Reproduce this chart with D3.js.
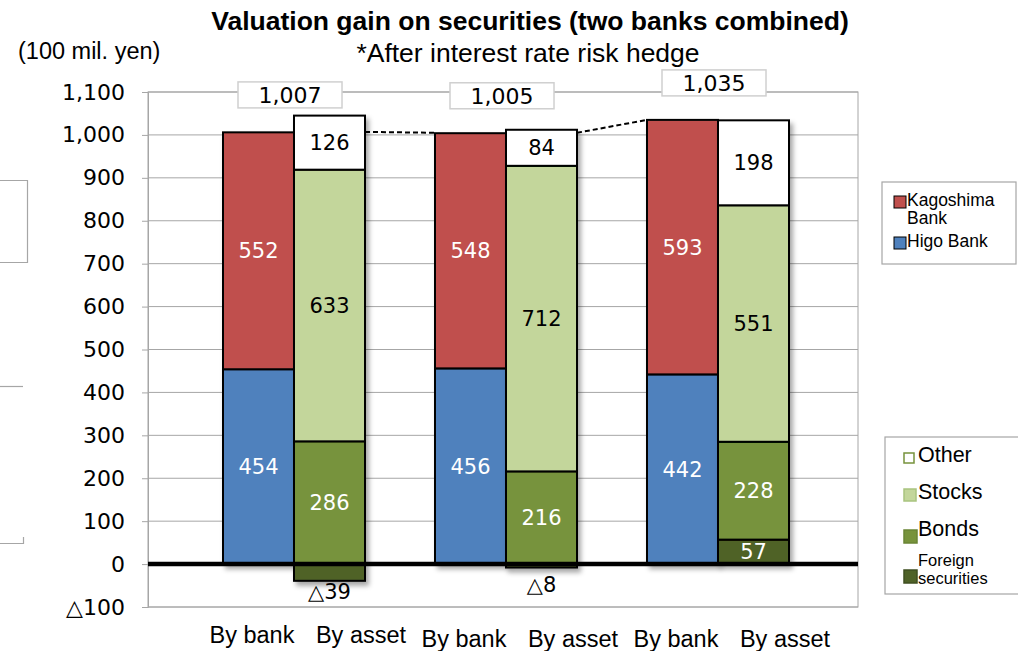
<!DOCTYPE html>
<html>
<head>
<meta charset="utf-8">
<script src="https://cdn.jsdelivr.net/npm/d3@7"></script>
<style>
  html, body { margin: 0; padding: 0; background: #fff; }
  svg { display: block; }
</style>
</head>
<body>
<svg id="chart" width="1018" height="651"></svg>
<script>
// ---- data (100 mil. yen) ----
const groups = ['A', 'B', 'C'];
const barTypes = ['By bank', 'By asset'];
const higo = [454, 456, 442];
const kagoshima = [552, 548, 593];
const foreign = [-39, -8, 57];
const bonds = [286, 216, 228];
const stocks = [633, 712, 551];
const other = [126, 84, 198];
const totals = [1007, 1005, 1035];
const yTickValues = [-100, 0, 100, 200, 300, 400, 500, 600, 700, 800, 900, 1000, 1100];

const colors = {
  kagoshima: '#C0504D',
  higo: '#4F81BD',
  other: '#FFFFFF',
  stocks: '#C3D69B',
  bonds: '#77933C',
  foreign: '#4F6228'
};

const numFont = 'Verdana, "DejaVu Sans", sans-serif';
const textFont = 'Arial, "Liberation Sans", sans-serif';

const svg = d3.select('#chart');
const defs = svg.append('defs');
const shadow = defs.append('filter').attr('id', 'shadow')
  .attr('x', '-20%').attr('y', '-20%').attr('width', '150%').attr('height', '150%');
shadow.append('feDropShadow')
  .attr('dx', 3).attr('dy', 4).attr('stdDeviation', 2.5)
  .attr('flood-color', '#000').attr('flood-opacity', 0.35);

const plot = { left: 148, right: 858, top: 92, bottom: 607 };

const y = d3.scaleLinear().domain([-100, 1100]).range([plot.bottom, plot.top]);
const x0 = d3.scaleBand().domain(groups).range([188, 824]).padding(0);
const x1 = d3.scaleBand().domain(barTypes).range([35, 177]).padding(0);

const fmt = d3.format(',');
const tickFmt = v => v < 0 ? '\u25B3' + fmt(-v) : fmt(v);

// ---- grid ----
svg.append('g')
  .selectAll('line')
  .data(yTickValues)
  .join('line')
  .attr('x1', plot.left).attr('x2', plot.right)
  .attr('y1', d => y(d)).attr('y2', d => y(d))
  .attr('stroke', '#A6A6A6').attr('stroke-width', 1);

// plot frame
svg.append('rect')
  .attr('x', plot.left).attr('y', plot.top)
  .attr('width', plot.right - plot.left).attr('height', plot.bottom - plot.top)
  .attr('fill', 'none').attr('stroke', '#A6A6A6').attr('stroke-width', 1);

// ---- y axis ----
const yAxis = d3.axisLeft(y).tickValues(yTickValues).tickFormat(tickFmt).tickSizeOuter(0).tickSize(6).tickPadding(17);
const yg = svg.append('g').attr('transform', `translate(${plot.left},0)`).call(yAxis);
yg.select('.domain').attr('stroke', '#A6A6A6');
yg.selectAll('.tick line').attr('stroke', '#A6A6A6');
yg.selectAll('.tick text')
  .attr('font-family', numFont)
  .attr('font-size', 22)
  .attr('fill', '#000');

// ---- stacks ----
function stackSegments(items) {
  let pos = 0, neg = 0;
  return items.map(it => {
    let y0, y1;
    if (it.value >= 0) { y0 = pos; y1 = pos + it.value; pos = y1; }
    else { y0 = neg + it.value; y1 = neg; neg = y0; }
    return Object.assign({}, it, { y0, y1 });
  });
}

const bars = [];
groups.forEach((g, i) => {
  bars.push({
    group: g, type: 'By bank',
    segs: stackSegments([
      { key: 'higo', value: higo[i], textColor: '#fff' },
      { key: 'kagoshima', value: kagoshima[i], textColor: '#fff' }
    ])
  });
  bars.push({
    group: g, type: 'By asset',
    segs: stackSegments([
      { key: 'foreign', value: foreign[i], textColor: '#fff' },
      { key: 'bonds', value: bonds[i], textColor: '#fff' },
      { key: 'stocks', value: stocks[i], textColor: '#000' },
      { key: 'other', value: other[i], textColor: '#000' }
    ])
  });
});

const barG = svg.append('g')
  .selectAll('g.bar')
  .data(bars)
  .join('g')
  .attr('class', 'bar')
  .attr('transform', d => `translate(${x0(d.group) + x1(d.type)},0)`);

barG.append('g').attr('filter', 'url(#shadow)')
  .selectAll('rect')
  .data(d => d.segs)
  .join('rect')
  .attr('x', 0)
  .attr('width', x1.bandwidth())
  .attr('y', s => y(s.y1))
  .attr('height', s => y(s.y0) - y(s.y1))
  .attr('fill', s => colors[s.key])
  .attr('stroke', '#000')
  .attr('stroke-width', 2);

// labels inside segments
barG.selectAll('text.val')
  .data(d => d.segs.filter(s => s.value > 0))
  .join('text')
  .attr('class', 'val')
  .attr('x', x1.bandwidth() / 2)
  .attr('y', s => (y(s.y0) + y(s.y1)) / 2)
  .attr('dy', '0.36em')
  .attr('text-anchor', 'middle')
  .attr('font-family', numFont)
  .attr('font-size', 21)
  .attr('fill', s => s.textColor)
  .text(s => fmt(s.value));

// negative values written below the bar
barG.selectAll('text.neg')
  .data(d => d.segs.filter(s => s.value < 0))
  .join('text')
  .attr('class', 'neg')
  .attr('x', x1.bandwidth() / 2)
  .attr('y', s => Math.max(y(s.y0) + 18, y(0) + 28))
  .attr('text-anchor', 'middle')
  .attr('font-family', numFont)
  .attr('font-size', 21)
  .attr('fill', '#000')
  .text(s => tickFmt(s.value));

// ---- zero line ----
svg.append('line')
  .attr('x1', plot.left).attr('x2', plot.right)
  .attr('y1', y(0)).attr('y2', y(0))
  .attr('stroke', '#000').attr('stroke-width', 4.5);

// ---- connectors between totals ----
for (let i = 0; i < groups.length - 1; i++) {
  svg.append('line')
    .attr('x1', x0(groups[i]) + x1('By asset') + x1.bandwidth())
    .attr('y1', y(totals[i]))
    .attr('x2', x0(groups[i + 1]) + x1('By bank'))
    .attr('y2', y(totals[i + 1]))
    .attr('stroke', '#000').attr('stroke-width', 2)
    .attr('stroke-dasharray', '5,3');
}

// ---- total labels ----
const totG = svg.append('g')
  .selectAll('g')
  .data(groups.map((g, i) => ({ g, v: totals[i] })))
  .join('g')
  .attr('transform', d => `translate(${x0(d.g) + x0.bandwidth() / 2 - 4},${y(d.v) - 37})`);
totG.append('rect')
  .attr('x', -52).attr('y', -13).attr('width', 104).attr('height', 26)
  .attr('fill', '#fff').attr('stroke', '#D0D0D0').attr('stroke-width', 1.5);
totG.append('text')
  .attr('text-anchor', 'middle').attr('dy', '0.36em')
  .attr('font-family', numFont)
  .attr('font-size', 22)
  .text(d => fmt(d.v));

// ---- category labels ----
const catOffset = { 'By bank': -42, 'By asset': 67 };
groups.forEach((g, i) => {
  barTypes.forEach(t => {
    svg.append('text')
      .attr('x', x0(g) + x0.bandwidth() / 2 + catOffset[t])
      .attr('y', i === 0 ? 643 : 647)
      .attr('text-anchor', 'middle')
      .attr('font-family', textFont)
      .attr('font-size', 23.5)
      .text(t);
  });
});

// ---- titles ----
svg.append('text')
  .attr('x', 530).attr('y', 30)
  .attr('text-anchor', 'middle')
  .attr('font-family', textFont)
  .attr('font-weight', 'bold')
  .attr('font-size', 26.5)
  .text('Valuation gain on securities (two banks combined)');
svg.append('text')
  .attr('x', 528).attr('y', 62)
  .attr('text-anchor', 'middle')
  .attr('font-family', textFont)
  .attr('font-size', 26.5)
  .text('*After interest rate risk hedge');
svg.append('text')
  .attr('x', 18).attr('y', 59)
  .attr('font-family', textFont)
  .attr('font-size', 23.5)
  .text('(100 mil. yen)');

// ---- legend: banks ----
const leg1 = svg.append('g');
leg1.append('rect').attr('x', 882).attr('y', 182).attr('width', 134).attr('height', 82)
  .attr('fill', '#fff').attr('stroke', '#A6A6A6').attr('stroke-width', 1.2);
const bankLegend = [
  { key: 'kagoshima', lines: ['Kagoshima', 'Bank'], y: 196 },
  { key: 'higo', lines: ['Higo Bank'], y: 237 }
];
bankLegend.forEach(it => {
  leg1.append('rect').attr('x', 894).attr('y', it.y).attr('width', 12).attr('height', 12)
    .attr('fill', colors[it.key]).attr('stroke', '#000').attr('stroke-width', 1);
  it.lines.forEach((ln, j) => {
    leg1.append('text')
      .attr('x', 907).attr('y', it.y + 10 + j * 18)
      .attr('font-family', textFont)
      .attr('font-size', 17.5)
      .text(ln);
  });
});

// ---- legend: assets ----
const leg2 = svg.append('g');
leg2.append('rect').attr('x', 885).attr('y', 437).attr('width', 140).attr('height', 157)
  .attr('fill', '#fff').attr('stroke', '#A6A6A6').attr('stroke-width', 1.2);
const assetLegend = [
  { key: 'other', stroke: '#77933C', lines: ['Other'], sy: 453, sz: 10, ty: 462, fs: 21.5 },
  { key: 'stocks', stroke: '#A9C47F', lines: ['Stocks'], sy: 489, sz: 12, ty: 499, fs: 21.5 },
  { key: 'bonds', stroke: '#6A8535', lines: ['Bonds'], sy: 530, sz: 13, ty: 536, fs: 21.5 },
  { key: 'foreign', stroke: '#3F4F20', lines: ['Foreign', 'securities'], sy: 570, sz: 13, ty: 566, fs: 16.5 }
];
assetLegend.forEach(it => {
  leg2.append('rect').attr('x', 904).attr('y', it.sy).attr('width', it.sz).attr('height', it.sz)
    .attr('fill', colors[it.key]).attr('stroke', it.stroke).attr('stroke-width', 1.5);
  it.lines.forEach((ln, j) => {
    leg2.append('text')
      .attr('x', 918).attr('y', it.ty + j * 18)
      .attr('font-family', textFont)
      .attr('font-size', it.fs)
      .text(ln);
  });
});

// ---- frames of neighbouring panels at the left edge ----
const edge = svg.append('g').attr('fill', 'none').attr('stroke', '#A6A6A6').attr('stroke-width', 1.2);
edge.append('path').attr('d', 'M-2,180.5 H27.5 V262.5 H-2');
edge.append('path').attr('d', 'M-2,386.5 H23');
edge.append('path').attr('d', 'M-2,543.5 H23.5 V537');
</script>
</body>
</html>
